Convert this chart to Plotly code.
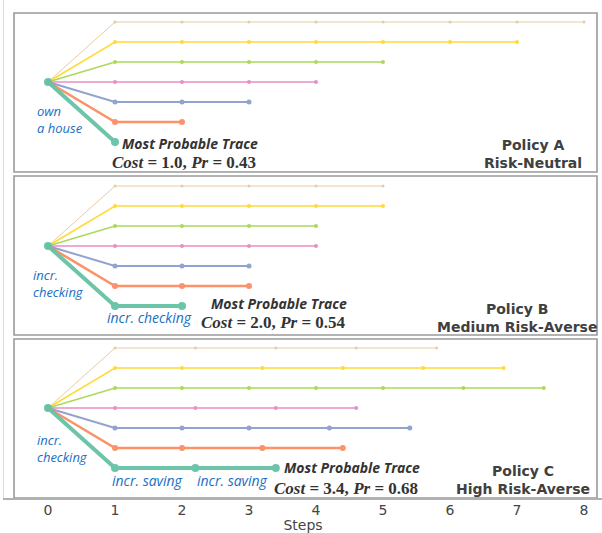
import plotly.graph_objects as go

# ---- data ----
trace_names = ["tan", "yellow", "green", "pink", "blue", "orange", "teal"]
trace_colors = ["#e5c494", "#ffd92f", "#a6d854", "#e78ac3", "#8da0cb", "#fc8d62", "#66c2a5"]
trace_ranks = [-3, -2, -1, 0, 1, 2, 3]

policy_names = ["Policy A", "Policy B", "Policy C"]
policy_subtitles = ["Risk-Neutral", "Medium Risk-Averse", "High Risk-Averse"]
policy_offsets = [0.0, 8.2, 16.3]

steps_A = [
    [1, 2, 3, 4, 5, 6, 7, 8],
    [1, 2, 3, 4, 5, 6, 7],
    [1, 2, 3, 4, 5],
    [1, 2, 3, 4],
    [1, 2, 3],
    [1, 2],
    [1],
]
steps_B = [
    [1, 2, 3, 4, 5],
    [1, 2, 3, 4, 5],
    [1, 2, 3, 4],
    [1, 2, 3, 4],
    [1, 2, 3],
    [1, 2, 3],
    [1, 2],
]
steps_C = [
    [1, 2.2, 3.4, 4.6, 5.8],
    [1, 2, 3.2, 4.4, 5.6, 6.8],
    [1, 2, 3, 4, 5, 6.2, 7.4],
    [1, 2.2, 3.4, 4.6],
    [1, 2, 3, 4.2, 5.4],
    [1, 2, 3.2, 4.4],
    [1, 2.2, 3.4],
]
policy_steps = [steps_A, steps_B, steps_C]

costs = [1.0, 2.0, 3.4]
probs = [0.43, 0.54, 0.68]
x_ticks = [0, 1, 2, 3, 4, 5, 6, 7, 8]

# ---- styles ----
line_widths = [1, 1.6, 1.6, 1.6, 2, 2.6, 4]
marker_sizes = [3, 4, 4, 4, 5, 6, 8]

fig = go.Figure()

# panel frames
panel_tops = [-3.45, 4.7, 12.85]
panel_bottoms = [4.5, 12.65, 20.8]
for p in range(3):
    fig.add_shape(type="rect", xref="x", yref="y", x0=-0.507, x1=8.194,
                  y0=panel_tops[p], y1=panel_bottoms[p],
                  line=dict(color="#9a9a9a", width=1.6), fillcolor="white", layer="below")

for p in range(3):
    base = policy_offsets[p]
    for i in range(len(trace_names)):
        xs = [0] + policy_steps[p][i]
        y_level = base + trace_ranks[i]
        ys = [base] + [y_level] * len(policy_steps[p][i])
        fig.add_trace(go.Scatter(
            x=xs, y=ys, mode="lines+markers",
            line=dict(color=trace_colors[i], width=line_widths[i]),
            marker=dict(color=trace_colors[i], size=marker_sizes[i]),
            opacity=0.95 if i > 0 else 0.85,
            showlegend=False, hoverinfo="skip"))

blue = "#1a6fc4"
def ann(x, y, text, size, color, family, xanchor="center", align="center"):
    fig.add_annotation(x=x, y=y, xref="x", yref="y", text=text, showarrow=False,
                       font=dict(size=size, color=color, family=family),
                       xanchor=xanchor, yanchor="middle", align=align)

label_font = "Open Sans"
# action labels at the first step
ann(-0.19, 1.85, "<i>own<br>a house</i>", 13, blue, label_font, "left", "left")
ann(-0.25, 10.05, "<i>incr.<br>checking</i>", 13, blue, label_font, "left", "left")
ann(-0.19, 18.3, "<i>incr.<br>checking</i>", 13, blue, label_font, "left", "left")
# later-step labels
ann(1.51, 11.75, "<i>incr. checking</i>", 14, blue, label_font)
ann(1.48, 19.9, "<i>incr. saving</i>", 14, blue, label_font)
ann(2.75, 19.9, "<i>incr. saving</i>", 14, blue, label_font)

# most probable trace labels
mpt_x = [1.08, 2.40, 3.49]
mpt_y = [3.05, 11.05, 19.25]
cost_x = [0.93, 2.25, 3.35]
cost_y = [4.0, 12.0, 20.3]
pol_x = [7.24, 7.0, 7.09]
pol_y = [3.6, 11.8, 19.9]
for p in range(3):
    ann(mpt_x[p], mpt_y[p], "<b><i>Most Probable Trace</i></b>", 14, "#333333", "Open Sans", "left")
    ann(cost_x[p], cost_y[p],
        f"<b><i>Cost</i> = {costs[p]:.1f}, <i>Pr</i> = {probs[p]:.2f}</b>",
        17, "#333333", "Liberation Serif", "left")
    ann(pol_x[p], pol_y[p], f"<b>{policy_names[p]}<br>{policy_subtitles[p]}</b>",
        14, "#404040", "DejaVu Sans")

fig.update_layout(
    width=602, height=533,
    margin=dict(l=4, r=0, t=0, b=35),
    paper_bgcolor="white", plot_bgcolor="white",
    xaxis=dict(range=[-44 / 67, 554 / 67], tickvals=x_ticks, showgrid=False, zeroline=False,
               showline=True, linecolor="#b0b0b0", linewidth=1.5,
               tickfont=dict(size=14, color="#444444", family="DejaVu Sans"),
               ticks="", ticklabelstandoff=-2,
               title=dict(text="Steps", standoff=3,
                          font=dict(size=14, color="#444444", family="DejaVu Sans"))),
    yaxis=dict(range=[20.8, -4.1], showgrid=False, zeroline=False, showticklabels=False,
               showline=True, linecolor="#dddddd", linewidth=1, ticks=""),
)

fig.write_html("out.html", config={"displayModeBar": False},
               post_script="document.body.style.margin='0';document.body.style.overflow='hidden';")
